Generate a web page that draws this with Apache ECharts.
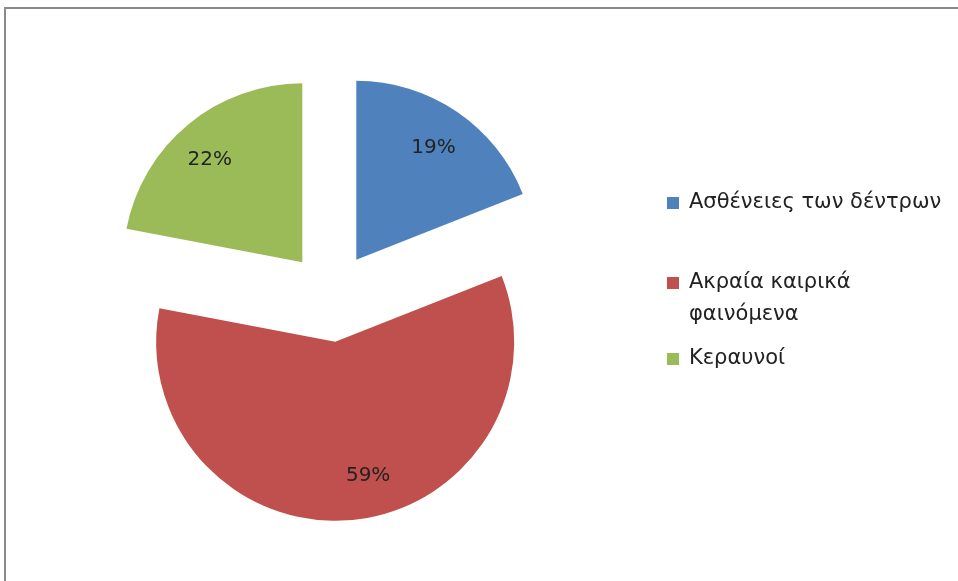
<!DOCTYPE html>
<html lang="el">
<head>
    <meta charset="UTF-8">
    <title>Πίτα</title>
    <script src="https://cdn.jsdelivr.net/npm/echarts@6/dist/echarts.min.js"></script>
    <style>
        body { margin: 0; background: #fff; }
        #main { position: absolute; left: 0; top: 0; width: 958px; height: 581px; }
        /* πλαίσιο του γραφήματος (κομμένο δεξιά και κάτω) */
        #frame { position: absolute; left: 4px; top: 7px; width: 960px; height: 580px;
                 border-top: 2px solid #8a8a8a; border-left: 2px solid #8a8a8a; pointer-events: none; }
    </style>
</head>
<body>
<div id="main"></div>
<div id="frame"></div>
<script type="text/javascript">
    // δεδομένα
    var names = ['Ασθένειες των δέντρων', 'Ακραία καιρικά φαινόμενα', 'Κεραυνοί'];
    var values = [19, 59, 22];
    var colors = ['#4F81BD', '#C0504D', '#9BBB59'];

    var font = '"DejaVu Sans", "Noto Sans", sans-serif';
    var center = [331, 297];
    var R = 179;

    var pieData = names.map(function (n, i) {
        return { name: n, value: values[i], selected: true, itemStyle: { color: colors[i] } };
    });
    var labelData = names.map(function (n, i) {
        return { name: n, value: values[i], selected: true };
    });

    function legendFor(i, top, txt) {
        var l = {
            orient: 'vertical',
            left: 667,
            top: top,
            padding: 0,
            data: [names[i]],
            icon: 'rect',
            itemWidth: 12,
            itemHeight: 12,
            selectedMode: false,
            itemStyle: { borderWidth: 0 },
            textStyle: { fontFamily: font, fontSize: 21, color: '#222', lineHeight: 24, padding: [0, 0, 0, 5] }
        };
        if (txt) {
            // τετράγωνο στην πρώτη γραμμή του κειμένου δύο γραμμών
            l.icon = 'path://M0,0h12v12h-12zM0,44';
            l.itemHeight = 44;
            l.formatter = function () { return txt; };
            l.textStyle.lineHeight = 32;
        }
        return l;
    }

    var myChart = echarts.init(document.getElementById('main'));
    var option = {
        animation: false,
        legend: [
            legendFor(0, 191),
            legendFor(1, 267, 'Ακραία καιρικά\nφαινόμενα'),
            legendFor(2, 347)
        ],
        series: [
            {
                type: 'pie',
                center: center,
                radius: [0, R],
                startAngle: 90,
                selectedMode: 'multiple',
                selectedOffset: 45,
                silent: true,
                label: { show: false },
                labelLine: { show: false },
                itemStyle: { borderWidth: 0 },
                emphasis: { disabled: true },
                data: pieData
            },
            {
                // διαφανές αντίγραφο μόνο για τις ετικέτες στο 3/4 της ακτίνας
                type: 'pie',
                center: center,
                radius: [R / 2, R],
                startAngle: 90,
                selectedMode: 'multiple',
                selectedOffset: 45,
                silent: true,
                itemStyle: { color: 'rgba(0,0,0,0)', borderWidth: 0 },
                label: {
                    show: true,
                    position: 'inside',
                    formatter: '{c}%',
                    fontFamily: font,
                    fontSize: 20,
                    color: '#222'
                },
                labelLine: { show: false },
                labelLayout: function (p) {
                    if (p.dataIndex === 1) return { dx: 20, dy: -3 };
                    if (p.dataIndex === 2) return { dx: -5, dy: 3 };
                    return { dy: 2 };
                },
                emphasis: { disabled: true },
                data: labelData
            }
        ]
    };
    myChart.setOption(option);
</script>
</body>
</html>
